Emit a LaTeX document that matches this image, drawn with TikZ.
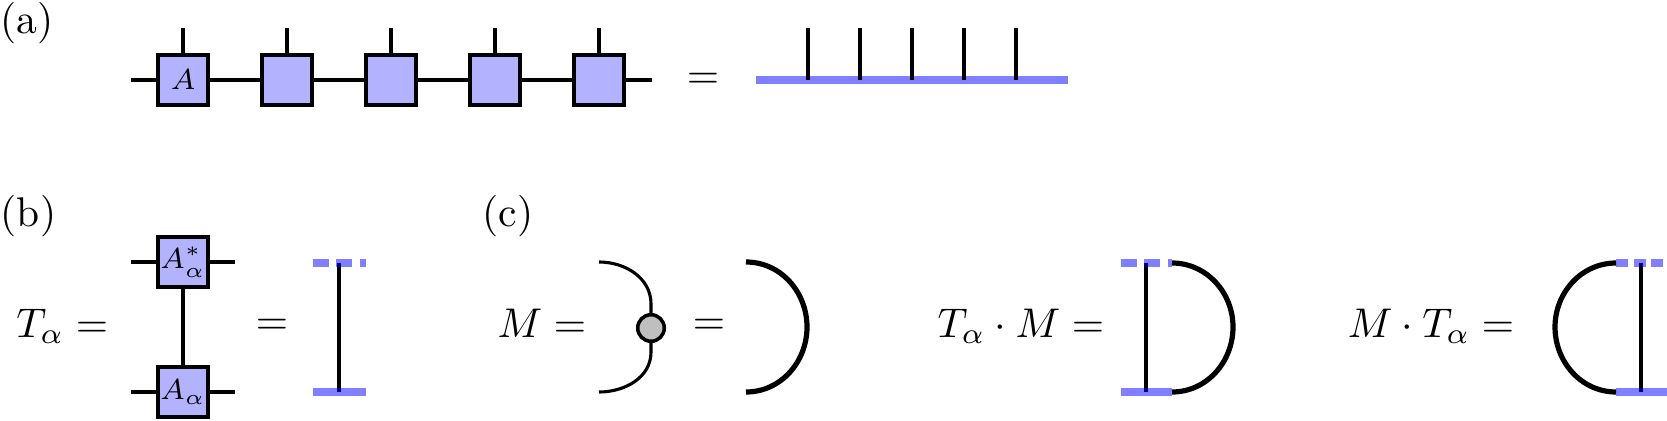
\documentclass[tikz,border=0pt]{standalone}
\begin{document}
\begin{tikzpicture}[x=0.241pt,y=-0.241pt,
  tens/.style={draw,line width=1.1pt,fill=blue!30,minimum size=12.1pt,inner sep=0pt,font=\scriptsize},
  leg/.style={line width=0.9pt},
  bondline/.style={line width=1.85pt,blue,opacity=0.5},
  bonddash/.style={bondline,dash pattern=on 3.85pt off 1.8pt},
  bonddashb/.style={bondline,dash pattern=on 2.9pt off 1.35pt},
  thickarc/.style={line width=1.25pt},
  thinarc/.style={line width=0.75pt},
  dot/.style={circle,draw,line width=0.85pt,fill=gray!50,minimum size=6.4pt,inner sep=0pt},
  lbl/.style={anchor=north west,inner sep=0pt},
  eq/.style={inner sep=0pt}
]
\useasboundingbox (0,0) rectangle (1667,421);

% ---------- (a) ----------
\node[lbl] (la) at (0,2) {(a)};
\node[tens] (A1) at (183,80) {$A$};
\node[tens] (A2) at (287,80) {};
\node[tens] (A3) at (391,80) {};
\node[tens] (A4) at (495,80) {};
\node[tens] (A5) at (599,80) {};
\coordinate (aL) at (131,80);
\coordinate (aR) at (652,80);
\draw[leg] (aL) -- (A1) (A1) -- (A2) (A2) -- (A3) (A3) -- (A4) (A4) -- (A5) (A5) -- (aR);
\foreach \i/\x in {1/183,2/287,3/391,4/495,5/599}{
  \coordinate (t\i) at (\x,28);
  \draw[leg] (A\i) -- (t\i);
}
\node[eq] (eqa) at (703,81) {$=$};
\coordinate (bL) at (756,80);
\coordinate (bR) at (1068,80);
\draw[bondline] (bL) -- (bR);
\foreach \i/\x in {1/808,2/860,3/912,4/964,5/1016}{
  \coordinate (p\i) at (\x,28);
  \coordinate (q\i) at (\x,80);
  \draw[leg] (p\i) -- (q\i);
}

% ---------- (b) ----------
\node[lbl] (lb) at (0,195) {(b)};
\node[eq,anchor=base east] (Teq) at (109,337) {$T_\alpha =$};
\node[tens] (Bt) at (183,262) {$A^*_\alpha$};
\node[tens] (Bb) at (183,392) {$A_\alpha$};
\coordinate (btl) at (131,262);
\coordinate (btr) at (235,262);
\coordinate (bbl) at (131,392);
\coordinate (bbr) at (235,392);
\draw[leg] (btl) -- (Bt) (Bt) -- (btr);
\draw[leg] (bbl) -- (Bb) (Bb) -- (bbr);
\draw[leg] (Bt) -- (Bb);
\node[eq] (eqb) at (272,327) {$=$};
\coordinate (i1) at (339,263);
\coordinate (i2) at (339,392);
\draw[leg] (i1) -- (i2);
\coordinate (it1) at (313,263);
\coordinate (it2) at (366,263);
\coordinate (ib1) at (313,392);
\coordinate (ib2) at (366,392);
\draw[bonddash] (it1) -- (it2);
\draw[bondline] (ib1) -- (ib2);

% ---------- (c) ----------
\node[lbl] (lc) at (482,195) {(c)};
\node[eq,anchor=base east] (Meq) at (587,337) {$M =$};
\node[dot] (dt) at (651,328) {};
\coordinate (m1) at (599,262);
\coordinate (mu) at (651,304);
\coordinate (md) at (651,352);
\coordinate (m2) at (599,392);
\draw[thinarc] (m1) to[out=0,in=90] (mu) -- (dt);
\draw[thinarc] (dt) -- (md) to[out=-90,in=0] (m2);
\node[eq] (eqc) at (709,327) {$=$};
\coordinate (c1) at (746,262);
\coordinate (c2) at (807,327);
\coordinate (c3) at (746,392);
\draw[thickarc] (c1) to[out=0,in=90] (c2) to[out=-90,in=0] (c3);

% T . M
\node[eq,anchor=base east] (TMeq) at (1105,337) {$T_\alpha\cdot M =$};
\coordinate (d1) at (1172,263);
\coordinate (d2) at (1233,327);
\coordinate (d3) at (1172,392);
\draw[thickarc] (d1) to[out=0,in=90] (d2) to[out=-90,in=0] (d3);
\coordinate (dv1) at (1146,263);
\coordinate (dv2) at (1146,392);
\draw[leg] (dv1) -- (dv2);
\coordinate (dt1) at (1121,263);
\coordinate (db1) at (1121,392);
\draw[bonddash] (dt1) -- (d1);
\draw[bondline] (db1) -- (d3);

% M . T
\node[eq,anchor=base east] (MTeq) at (1515,337) {$M\cdot T_\alpha =$};
\coordinate (e1) at (1616,263);
\coordinate (e2) at (1555,327);
\coordinate (e3) at (1616,392);
\draw[thickarc] (e1) to[out=180,in=90] (e2) to[out=-90,in=180] (e3);
\coordinate (ev1) at (1641,263);
\coordinate (ev2) at (1641,392);
\draw[leg] (ev1) -- (ev2);
\coordinate (et2) at (1667,263);
\coordinate (eb2) at (1667,392);
\draw[bonddashb] (e1) -- (et2);
\draw[bondline] (e3) -- (eb2);
\end{tikzpicture}
\end{document}
